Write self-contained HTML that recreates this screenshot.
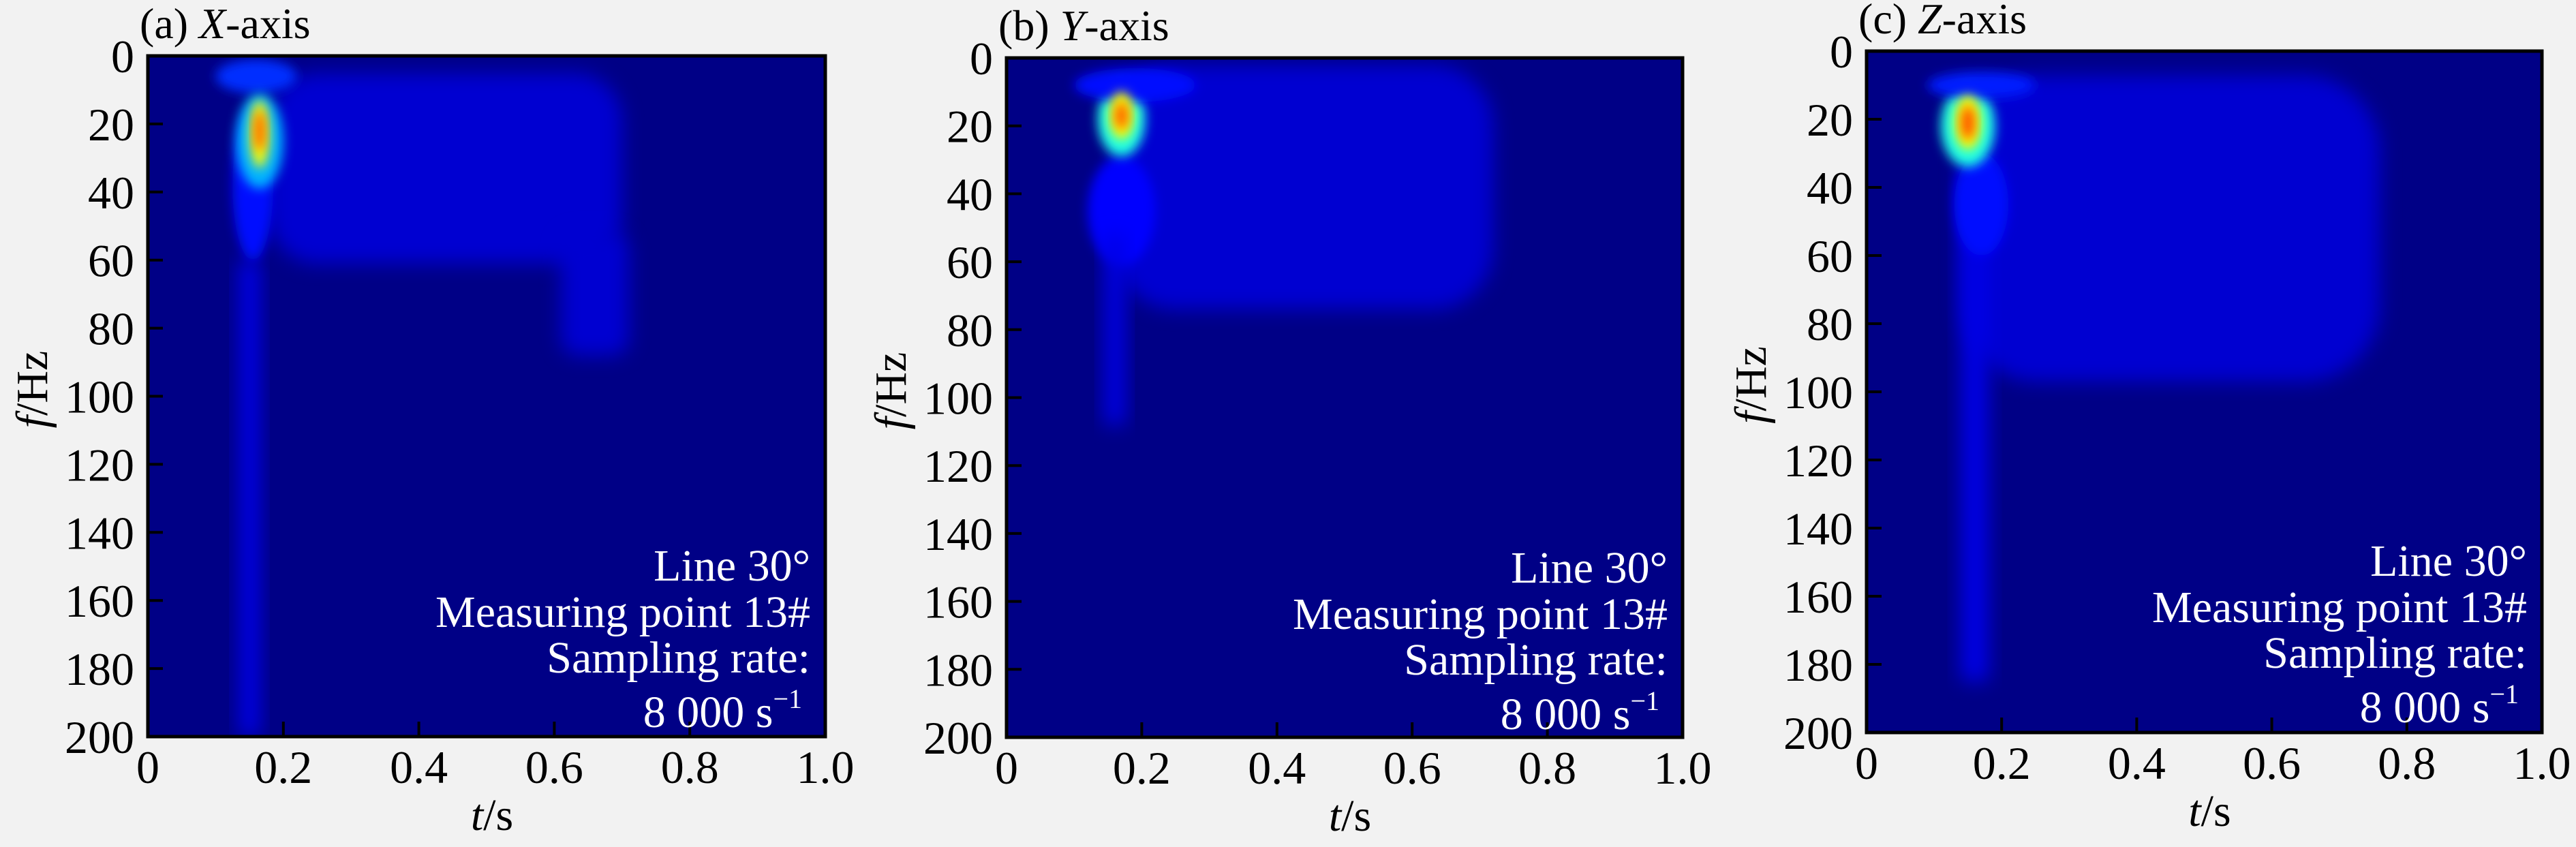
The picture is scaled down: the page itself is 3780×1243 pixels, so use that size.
<!DOCTYPE html>
<html><head><meta charset="utf-8">
<style>
html,body{margin:0;padding:0;background:#f2f2f2;}
svg{display:block;}
text{font-family:"Liberation Serif",serif;}
</style></head>
<body>
<svg id="fig" width="3780" height="1243" viewBox="0 0 3780 1243" xmlns="http://www.w3.org/2000/svg" font-family="Liberation Serif, serif">
<defs>
<filter id="blurS" x="-50%" y="-50%" width="200%" height="200%"><feGaussianBlur stdDeviation="8"/></filter>
<filter id="blurL" x="-50%" y="-50%" width="200%" height="200%"><feGaussianBlur stdDeviation="14"/></filter>
</defs>
</svg>
<script>
// axis ticks
const tTicks = [0, 0.2, 0.4, 0.6, 0.8, 1.0];
const tTickLabels = ["0", "0.2", "0.4", "0.6", "0.8", "1.0"];
const fTicks = [0, 20, 40, 60, 80, 100, 120, 140, 160, 180, 200];
const panelTitles = ["(a) ", "(b) ", "(c) "];
const panelAxes = ["X", "Y", "Z"];
// energy regions per panel: center t, center f, half-width t, half-height f, level (0..1 jet)
const blobT_a = [0.44, 0.66, 0.15, 0.155, 0.16, 0.165, 0.165, 0.165];
const blobF_a = [33, 70, 130, 38, 6, 25, 23, 22];
const blobW_a = [0.26, 0.05, 0.015, 0.03, 0.06, 0.035, 0.014, 0.008];
const blobH_a = [28, 18, 70, 22, 5, 14, 10, 6];
const blobV_a = [0.08, 0.08, 0.1, 0.14, 0.17, 0.3, 0.62, 0.78];

const blobT_b = [0.44, 0.17, 0.16, 0.17, 0.19, 0.17, 0.17];
const blobF_b = [38, 45, 80, 18, 8, 17, 17];
const blobW_b = [0.28, 0.05, 0.015, 0.035, 0.09, 0.018, 0.01];
const blobH_b = [36, 16, 28, 11, 5, 7, 4];
const blobV_b = [0.08, 0.13, 0.1, 0.4, 0.14, 0.62, 0.78];

const blobT_c = [0.45, 0.16, 0.17, 0.15, 0.17, 0.15, 0.15];
const blobF_c = [52, 110, 45, 22, 10, 21, 21];
const blobW_c = [0.31, 0.02, 0.04, 0.04, 0.08, 0.02, 0.01];
const blobH_c = [45, 75, 15, 12, 4, 8, 5];
const blobV_c = [0.08, 0.1, 0.14, 0.4, 0.15, 0.62, 0.8];

const panels = [
  {x0:217, x1:1211, y0:82, y1:1081, bt:blobT_a, bf:blobF_a, bw:blobW_a, bh:blobH_a, bv:blobV_a},
  {x0:1477, x1:2469, y0:85, y1:1082, bt:blobT_b, bf:blobF_b, bw:blobW_b, bh:blobH_b, bv:blobV_b},
  {x0:2739, x1:3730, y0:75, y1:1075, bt:blobT_c, bf:blobF_c, bw:blobW_c, bh:blobH_c, bv:blobV_c}
];
const NS = "http://www.w3.org/2000/svg";
const svg = document.getElementById('fig');
function clamp(v){return Math.max(0,Math.min(1,v));}
function jet(v){
  const r=clamp(1.5-Math.abs(4*v-3)), g=clamp(1.5-Math.abs(4*v-2)), b=clamp(1.5-Math.abs(4*v-1));
  return `rgb(${Math.round(r*255)},${Math.round(g*255)},${Math.round(b*255)})`;
}
function mk(tag, attrs, parent){
  const e=document.createElementNS(NS,tag);
  for(const k in attrs) e.setAttribute(k, attrs[k]);
  if(tag==='text') e.setAttribute('font-family','Liberation Serif, serif');
  (parent||svg).appendChild(e); return e;
}
panels.forEach((p,i)=>{
  const g = mk('g',{});
  
  
  const xs = t => p.x0 + t*(p.x1-p.x0);
  const ys = f => p.y0 + f/200*(p.y1-p.y0);
  const cid = 'clip'+i;
  const cp = mk('clipPath',{id:cid}, g);
  mk('rect',{x:p.x0,y:p.y0,width:p.x1-p.x0,height:p.y1-p.y0}, cp);
  const bg = mk('rect',{x:p.x0,y:p.y0,width:p.x1-p.x0,height:p.y1-p.y0,fill:'#000086'}, g);
  
  
  const hg = mk('g',{'clip-path':`url(#${cid})`}, g);
  
  
  p.bt.forEach((t,k)=>{
    const v = p.bv[k];
    const W = p.bw[k]*(p.x1-p.x0), H = p.bh[k]/200*(p.y1-p.y0);
    let e;
    if (v < 0.12) {
      e = mk('rect',{x:xs(t)-W, y:ys(p.bf[k])-H, width:2*W, height:2*H, rx:Math.min(W,H)*0.5, fill:jet(v), filter:'url(#blurL)'}, hg);
    } else {
      e = mk('ellipse',{cx:xs(t), cy:ys(p.bf[k]), rx:W, ry:H, fill:jet(v), filter:'url(#blurS)'}, hg);
    }
    
    
  });
  const fr = mk('rect',{x:p.x0,y:p.y0,width:p.x1-p.x0,height:p.y1-p.y0,fill:'none',stroke:'#000','stroke-width':5}, g);
  
  
  tTicks.forEach((t,k)=>{
    mk('line',{x1:xs(t),x2:xs(t),y1:p.y1,y2:p.y1-22,stroke:'#000','stroke-width':4}, g);
    const tx = mk('text',{x:xs(t), y:p.y1+68, 'font-size':68, 'text-anchor':'middle', fill:'#000'}, g);
    tx.textContent = tTickLabels[k];
    
    
  });
  fTicks.forEach(f=>{
    mk('line',{x1:p.x0,x2:p.x0+22,y1:ys(f),y2:ys(f),stroke:'#000','stroke-width':4}, g);
    const tx = mk('text',{x:p.x0-20, y:ys(f)+24, 'font-size':68, 'text-anchor':'end', fill:'#000'}, g);
    tx.textContent = String(f);
    
    
  });
  const xl = mk('text',{x:(p.x0+p.x1)/2 + 8, y:p.y1+137, 'font-size':66, 'text-anchor':'middle', fill:'#000'}, g);
  xl.innerHTML = '<tspan font-style="italic">t</tspan>/s';
  
  
  const yl = mk('text',{x:0, y:0, 'font-size':66, 'text-anchor':'middle', fill:'#000', transform:`translate(${p.x0-148},${(p.y0+p.y1)/2 - 10}) rotate(-90)`}, g);
  yl.innerHTML = '<tspan font-style="italic">f</tspan>/Hz';
  
  
  const ti = mk('text',{x:p.x0-12, y:p.y0-26, 'font-size':64, fill:'#000'}, g);
  ti.innerHTML = panelTitles[i] + '<tspan font-style="italic">'+panelAxes[i]+'</tspan>-axis';
  
  
  const lines = ["Line 30°", "Measuring point 13#", "Sampling rate:"];
  const rx = p.x1 - 22;
  lines.forEach((s,k)=>{
    const a = mk('text',{x:rx, y:p.y0+[770,838,905][k], 'font-size':66, 'text-anchor':'end', fill:'#fff'}, g);
    a.textContent = s;
    
    
  });
  const a4 = mk('text',{x:rx-12, y:p.y0+985, 'font-size':66, 'text-anchor':'end', fill:'#fff'}, g);
  a4.innerHTML = '8 000 s<tspan dy="-28" font-size="40">−1</tspan>';
  
  
});
</script>
</body></html>
